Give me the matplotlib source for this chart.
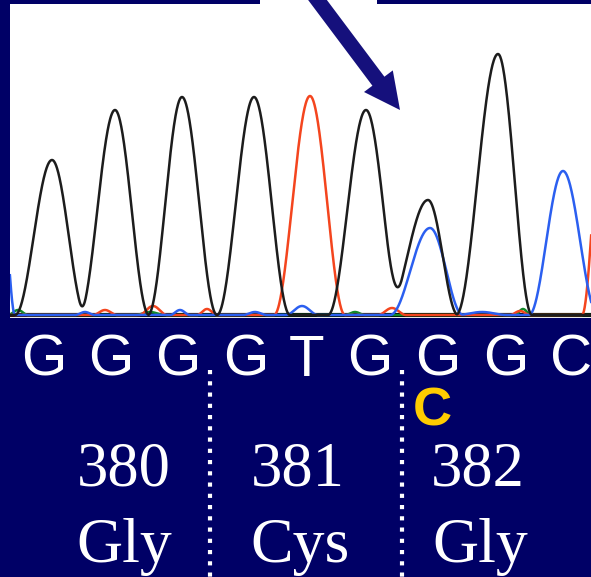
import numpy as np
import matplotlib.pyplot as plt
from matplotlib.patches import Polygon, Rectangle

# Figure size in pixels (dpi 100)
W, H = 591, 577
NAVY = '#000066'
ARROW = '#15107c'

# Peaks of each dye channel: position (scan), height, left / right half width
black_pos = [52, 115, 182, 254, 366, 428, 498]
black_h = [155, 205, 218, 218, 205, 115, 261]
black_wl = [37, 36, 34, 37, 38, 42, 42]
black_wr = [34, 34, 35, 36, 36, 30, 34]

red_pos = [105, 153, 207, 310, 392, 520, 604]
red_h = [5, 9, 6, 219, 7, 4, 215]
red_wl = [12, 14, 10, 36, 14, 10, 22]
red_wr = [12, 14, 10, 35, 14, 10, 22]

blue_pos = [2, 85, 180, 255, 302, 430, 482, 563]
blue_h = [120, 3, 5, 3, 9, 87, 3, 144]
blue_wl = [13, 10, 10, 12, 16, 40, 25, 34]
blue_wr = [13, 10, 10, 12, 16, 33, 25, 35]

green_pos = [18, 150, 355, 523]
green_h = [5, 3, 3, 6]
green_wl = [10, 15, 10, 8]
green_wr = [10, 15, 10, 8]

# Base calls and annotation text
bases = ['G', 'G', 'G', 'G', 'T', 'G', 'G', 'G', 'C']
base_x = [44, 111, 178, 246, 307, 370, 438, 506, 571]
codons = ['380', '381', '382']
amino = ['Gly', 'Cys', 'Gly']
codon_x = [124, 298, 478]
amino_x = [124, 300, 480]
divider_x = [210, 402]


def peak_trace(x, pos, h, wl, wr):
    y = np.zeros_like(x)
    for p, hh, a, b in zip(pos, h, wl, wr):
        d = x - p
        w = np.where(d < 0, a, b)
        y += np.where(np.abs(d) < w, hh * np.cos(np.pi * d / (2 * w)) ** 2, 0)
    return y


fig = plt.figure(figsize=(W / 100, H / 100), dpi=100, facecolor=NAVY)

# chromatogram panel
ax = fig.add_axes([10 / W, (H - 318) / H, (W - 10) / W, 314 / H])
ax.set_facecolor('white')
ax.set_xlim(10, 591)
ax.set_ylim(-3, 311)
for s in ax.spines.values():
    s.set_visible(False)
ax.set_xticks([])
ax.set_yticks([])

x = np.linspace(0, 620, 2000)
ax.axhline(0, color='black', lw=3.0, zorder=1)
ax.plot(x, peak_trace(x, green_pos, green_h, green_wl, green_wr), color='#128a2a', lw=1.8, zorder=2)
ax.plot(x, peak_trace(x, red_pos, red_h, red_wl, red_wr), color='#f4451e', lw=1.8, zorder=3)
ax.plot(x, peak_trace(x, blue_pos, blue_h, blue_wl, blue_wr), color='#2b5ff0', lw=1.8, zorder=3)
ax.plot(x, peak_trace(x, black_pos, black_h, black_wl, black_wr), color='#1c1c1c', lw=1.8, zorder=4)

# overlay in pixel coordinates for labels and the arrow
ov = fig.add_axes([0, 0, 1, 1])
ov.set_xlim(0, W)
ov.set_ylim(H, 0)
ov.axis('off')

ov.add_patch(Rectangle((260, 0), 117, 6, color='white', lw=0))

# arrow pointing at the mixed G/C peak
tip = np.array([400.0, 110.0])
u = np.array([0.6, 0.8])
n = np.array([-0.8, 0.6])
base = tip - 36 * u
start = tip - 170 * u
sw, hw = 7.5, 18
verts = [start + sw * n, base + sw * n, base + hw * n, tip,
         base - hw * n, base - sw * n, start - sw * n]
ov.add_patch(Polygon(verts, closed=True, color=ARROW, lw=0))

for b, bx in zip(bases, base_x):
    ov.text(bx, 376, b, color='white', fontsize=42, family='Liberation Sans',
            ha='center', va='baseline')

ov.text(432, 426, 'C', color='#ffcc00', fontsize=39, family='Liberation Sans',
        fontweight='bold', ha='center', va='baseline')

for c, cx in zip(codons, codon_x):
    ov.text(cx, 485, c, color='white', fontsize=45, family='Liberation Serif',
            ha='center', va='baseline')
for a, axx in zip(amino, amino_x):
    ov.text(axx, 562, a, color='white', fontsize=46, family='Liberation Serif',
            ha='center', va='baseline')

for dx in divider_x:
    ov.plot([dx, dx], [370, H], color='white', lw=3.0,
            linestyle=(0, (1, 1.7)), dash_capstyle='butt')

fig.savefig('out.png', dpi=100, facecolor=NAVY)
